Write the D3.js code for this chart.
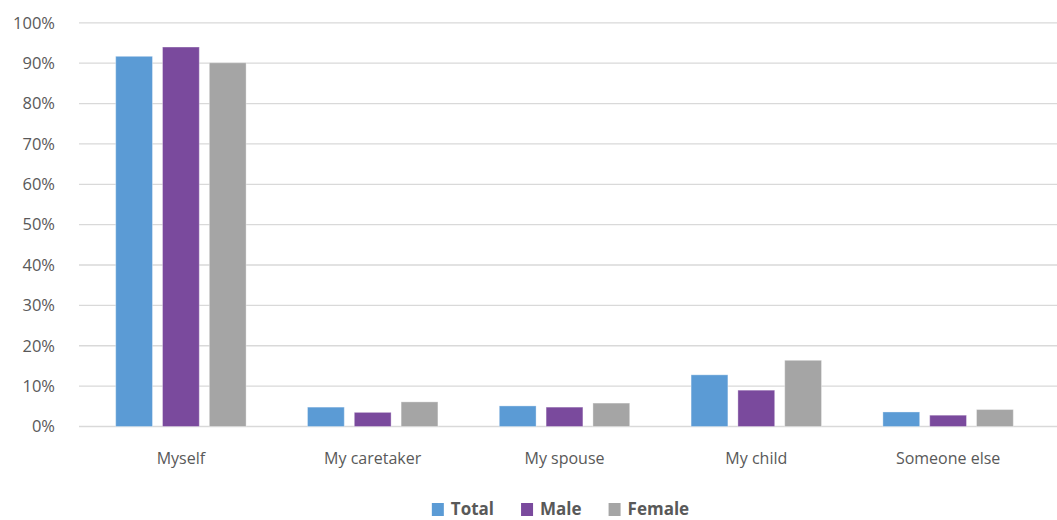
<!DOCTYPE html>
<html>
<head>
<meta charset="utf-8">
<script src="https://cdn.jsdelivr.net/npm/d3@7"></script>
<style>
  html, body { margin: 0; padding: 0; background: #fff; }
  svg { display: block; font-family: "Open Sans", "Noto Sans", sans-serif; }
</style>
</head>
<body>
<svg id="chart" width="1057" height="520"></svg>
<script>
// Who the respondent is answering for, split by gender (percent of respondents)
const categories = ["Myself", "My caretaker", "My spouse", "My child", "Someone else"];
const seriesNames = ["Total", "Male", "Female"];
const totalValues  = [91.7, 4.8, 5.1, 12.8, 3.6];
const maleValues   = [94.0, 3.5, 4.8, 9.0, 2.8];
const femaleValues = [90.1, 6.1, 5.8, 16.4, 4.2];
const yTicks = [0, 10, 20, 30, 40, 50, 60, 70, 80, 90, 100];
const colors = ["#5B9BD5", "#7A4A9D", "#A5A5A5"];

const seriesValues = [totalValues, maleValues, femaleValues];
const rows = categories.map((c, i) => ({
  category: c,
  values: seriesNames.map((s, j) => ({ series: s, value: seriesValues[j][i] }))
}));

const svg = d3.select("#chart");
const gridLeft = 79, gridRight = 1057;
const labelFont = "'Open Sans', 'Noto Sans', sans-serif";

const x0 = d3.scaleBand()
  .domain(categories)
  .range([85, 1044])
  .paddingInner(0.32)
  .paddingOuter(0.16);

const x1 = d3.scaleBand()
  .domain(seriesNames)
  .range([0, x0.bandwidth()])
  .paddingInner(0.214);

const y = d3.scaleLinear().domain([0, 100]).range([426.5, 22.8]);
const color = d3.scaleOrdinal().domain(seriesNames).range(colors);

// Horizontal gridlines
svg.append("g")
  .selectAll("line")
  .data(yTicks)
  .join("line")
  .attr("x1", gridLeft)
  .attr("x2", gridRight)
  .attr("y1", d => y(d))
  .attr("y2", d => y(d))
  .attr("stroke", "#D9D9D9")
  .attr("stroke-width", 1.3);

// Y axis labels
const yAxis = d3.axisLeft(y).tickValues(yTicks).tickFormat(d => d + "%").tickSize(0).tickPadding(0);
const yg = svg.append("g").attr("transform", "translate(55,0)").call(yAxis);
yg.select(".domain").remove();
yg.selectAll("text")
  .attr("fill", "#595959")
  .style("font-size", "16.5px")
  .style("font-family", labelFont);

// Bars
const groups = svg.append("g")
  .selectAll("g")
  .data(rows)
  .join("g")
  .attr("transform", d => `translate(${x0(d.category)},0)`);

groups.selectAll("rect")
  .data(d => d.values)
  .join("rect")
  .attr("x", d => x1(d.series))
  .attr("y", d => y(d.value))
  .attr("width", x1.bandwidth())
  .attr("height", d => y(0) - y(d.value))
  .attr("fill", d => color(d.series))
  .attr("stroke", "#ffffff")
  .attr("stroke-opacity", 0.35)
  .attr("stroke-width", 1);

// Category axis labels
const xAxis = d3.axisBottom(x0).tickSize(0).tickPadding(0);
const xg = svg.append("g").attr("transform", "translate(0,453)").call(xAxis);
xg.select(".domain").remove();
xg.selectAll("text")
  .attr("fill", "#595959")
  .style("font-size", "16px")
  .style("font-family", labelFont);

// Legend, centred below the plot
const legend = svg.append("g").attr("transform", "translate(0,509)");
const items = legend.selectAll("g")
  .data(seriesNames)
  .join("g");
items.append("rect")
  .attr("width", 12)
  .attr("height", 13)
  .attr("y", -6)
  .attr("fill", d => color(d));
items.append("text")
  .attr("x", 19)
  .attr("dy", "0.35em")
  .attr("fill", "#595959")
  .style("font-size", "17px")
  .style("font-weight", "bold")
  .style("font-family", labelFont)
  .text(d => d);

const gap = 27;
let widths = [];
items.each(function () {
  widths.push(19 + this.querySelector("text").getComputedTextLength());
});
const totalW = d3.sum(widths) + gap * (widths.length - 1);
let cursor = 560.5 - totalW / 2;
items.attr("transform", (d, i) => {
  const tx = cursor;
  cursor += widths[i] + gap;
  return `translate(${tx},0)`;
});
</script>
</body>
</html>
